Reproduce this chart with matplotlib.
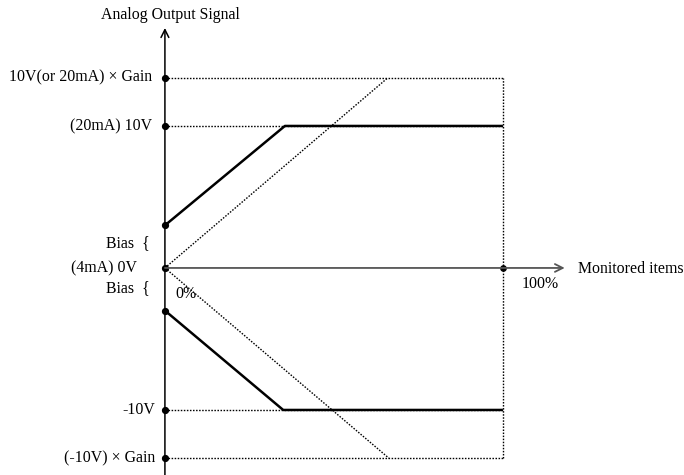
import matplotlib
matplotlib.use("Agg")
import matplotlib.pyplot as plt

plt.rcParams["font.family"] = ["Liberation Serif", "DejaVu Serif"]

# levels in volts, x in percent of monitored item
gain_level = 13.4
full_level = 10.0
bias_level = 3.0

pos_out_x = [0, 35.5, 100]
pos_out_y = [bias_level, full_level, full_level]
neg_out_x = [0, 35, 100]
neg_out_y = [-bias_level, -full_level, -full_level]

pos_gain_x = [0, 66]
pos_gain_y = [0, gain_level]
neg_gain_x = [0, 66.3]
neg_gain_y = [0, -gain_level]

ref_levels = [gain_level, full_level, 0, -full_level, -gain_level]
axis_dots_y = [gain_level, full_level, bias_level, 0, -bias_level, -full_level, -gain_level]

fig = plt.figure(figsize=(6.84, 4.75), dpi=100)
ax = fig.add_axes([0, 0, 1, 1])
ax.set_xlim(-48.8, 153.6)
ax.set_ylim(-14.58, 18.87)
ax.axis("off")

dot = dict(color="black", lw=1.0, ls=(0, (1.1, 1.1)))

# dotted reference box / levels
for lv in ref_levels:
    if lv != 0:
        ax.plot([0, 100], [lv, lv], **dot)
ax.plot([100, 100], [-gain_level, gain_level], **dot)
ax.plot(pos_gain_x, pos_gain_y, **dot)
ax.plot(neg_gain_x, neg_gain_y, **dot)

# axes with open arrow heads
ax.annotate("", xy=(0, 16.9), xytext=(0, -14.6),
            arrowprops=dict(arrowstyle="->", lw=1.1, color="black",
                            shrinkA=0, shrinkB=0, mutation_scale=14))
ax.annotate("", xy=(118.3, 0), xytext=(0, 0),
            arrowprops=dict(arrowstyle="->", lw=1.3, color="#555555",
                            shrinkA=0, shrinkB=0, mutation_scale=14))

# output characteristics
ax.plot(pos_out_x, pos_out_y, color="black", lw=1.8, solid_capstyle="butt")
ax.plot(neg_out_x, neg_out_y, color="black", lw=1.8, solid_capstyle="butt")

ax.plot([0] * len(axis_dots_y), axis_dots_y, "o", color="black", ms=4.2)
ax.plot([100], [0], "o", color="black", ms=3.8)

fs = 11.4
ax.text(1.5, 17.8, "Analog Output Signal", ha="center", va="center", fontsize=fs)
ax.text(-3.85, gain_level, "10V(or 20mA) × Gain", ha="right", va="center", fontsize=fs)
ax.text(-3.85, full_level, "(20mA) 10V", ha="right", va="center", fontsize=fs)
ax.text(-4.4, 1.75, "Bias  {", ha="right", va="center", fontsize=fs)
ax.text(-8.3, 0, "(4mA) 0V", ha="right", va="center", fontsize=fs)
ax.text(-4.4, -1.4, "Bias  {", ha="right", va="center", fontsize=fs)
ax.text(-2.9, -full_level, "-10V", ha="right", va="center", fontsize=fs)
ax.text(-2.9, -gain_level, "(-10V) × Gain", ha="right", va="center", fontsize=fs)
ax.text(3.2, -1.85, "0%", ha="left", va="center", fontsize=fs)
ax.text(105.6, -1.1, "100%", ha="left", va="center", fontsize=fs)
ax.text(122.2, -0.1, "Monitored items", ha="left", va="center", fontsize=fs)

fig.savefig("out.png", dpi=100)
